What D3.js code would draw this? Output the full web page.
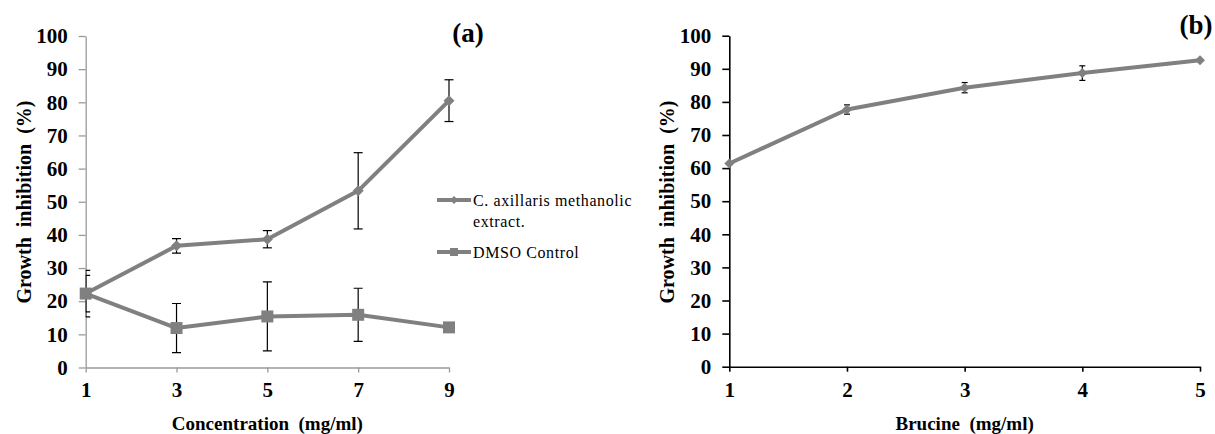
<!DOCTYPE html>
<html>
<head>
<meta charset="utf-8">
<script src="https://cdn.jsdelivr.net/npm/d3@7"></script>
<style>
  body { margin: 0; background: #fff; }
  svg text { font-family: "Liberation Serif", "DejaVu Serif", serif !important; }
</style>
</head>
<body>
<script>
// panel (a)
const concA = [1, 3, 5, 7, 9];
const extractMean = [22.3, 36.7, 38.7, 53.3, 80.5];
const extractErr = [7, 2.2, 2.6, 11.5, 6.3];
const dmsoMean = [22.3, 11.9, 15.4, 15.9, 12.1];
const dmsoErr = [5.5, 7.4, 10.4, 8, 0];
// panel (b)
const brucineConc = [1, 2, 3, 4, 5];
const brucineMean = [61.4, 77.7, 84.3, 88.7, 92.6];
const brucineErr = [0, 1.4, 1.55, 2.2, 0];

const yTicks = [0, 10, 20, 30, 40, 50, 60, 70, 80, 90, 100];
const legendLabels = [["C. axillaris methanolic", "extract."], ["DMSO Control"]];

const lineColor = "#808080";
const serif = "Liberation Serif";

const svg = d3.select("body").append("svg")
  .attr("width", 1215)
  .attr("height", 434)
  .attr("font-family", serif);

svg.append("rect").attr("width", 1215).attr("height", 434).attr("fill", "#fff");

function diamond(r) {
  return `M0,${-r}L${r},0L0,${r}L${-r},0Z`;
}

function square(s) {
  return `M${-s / 2},${-s / 2}h${s}v${s}h${-s}Z`;
}

function drawPanel(opt) {
  const x = d3.scalePoint().domain(opt.xs).range(opt.xRange);
  const y = d3.scaleLinear().domain([0, 100]).range(opt.yRange);

  const g = svg.append("g");

  const yAxis = g.append("g")
    .attr("transform", `translate(${opt.xRange[0]},0)`)
    .call(d3.axisLeft(y).tickValues(yTicks).tickSize(7).tickPadding(11).tickSizeOuter(0));

  const xAxis = g.append("g")
    .attr("transform", `translate(0,${opt.yRange[0]})`)
    .call(d3.axisBottom(x).tickSize(5).tickPadding(10).tickSizeOuter(0));

  [yAxis, xAxis].forEach(a => {
    a.attr("font-family", serif).attr("font-size", 21).attr("font-weight", "bold");
    a.select(".domain").attr("stroke", opt.axisColor).attr("stroke-width", opt.axisWidth);
    a.selectAll(".tick line").attr("stroke", opt.axisColor).attr("stroke-width", opt.axisWidth);
    a.selectAll(".tick text").attr("fill", "#000");
  });

  const clipId = "clip-" + opt.id;
  g.append("clipPath").attr("id", clipId)
    .append("rect")
    .attr("x", opt.xRange[0])
    .attr("y", 0)
    .attr("width", 1215 - opt.xRange[0])
    .attr("height", opt.yRange[0]);

  const line = d3.line().x(d => x(d.x)).y(d => y(d.y));

  opt.series.forEach(s => {
    const pts = opt.xs.map((v, i) => ({ x: v, y: s.mean[i], e: s.err[i] }));

    g.append("path")
      .datum(pts)
      .attr("fill", "none")
      .attr("stroke", lineColor)
      .attr("stroke-width", 4)
      .attr("stroke-linejoin", "round")
      .attr("d", line);

    const eb = g.append("g")
      .attr("clip-path", `url(#${clipId})`)
      .attr("stroke", "#000")
      .attr("stroke-width", 1.2)
      .selectAll("g")
      .data(pts.filter(d => d.e > 0))
      .join("g");

    eb.append("line")
      .attr("x1", d => x(d.x)).attr("x2", d => x(d.x))
      .attr("y1", d => y(d.y + d.e)).attr("y2", d => y(d.y - d.e));
    eb.append("line")
      .attr("x1", d => x(d.x) - opt.cap).attr("x2", d => x(d.x) + opt.cap)
      .attr("y1", d => y(d.y + d.e)).attr("y2", d => y(d.y + d.e));
    eb.append("line")
      .attr("x1", d => x(d.x) - opt.cap).attr("x2", d => x(d.x) + opt.cap)
      .attr("y1", d => y(d.y - d.e)).attr("y2", d => y(d.y - d.e));

    g.append("g")
      .selectAll("path")
      .data(pts)
      .join("path")
      .attr("transform", d => `translate(${x(d.x)},${y(d.y)})`)
      .attr("fill", lineColor)
      .attr("d", s.marker);
  });

  // axis titles
  g.append("text")
    .attr("x", (opt.xRange[0] + opt.xRange[1]) / 2)
    .attr("y", opt.xTitleY)
    .attr("text-anchor", "middle")
    .attr("font-weight", "bold")
    .attr("font-size", 19)
    .style("white-space", "pre")
    .text(opt.xTitle);

  g.append("text")
    .attr("transform", `translate(${opt.xRange[0] - 55},202) rotate(-90)`)
    .attr("text-anchor", "middle")
    .attr("font-weight", "bold")
    .attr("font-size", 20)
    .style("white-space", "pre")
    .text("Growth  inhibition  (%)");

  g.append("text")
    .attr("x", opt.tagX)
    .attr("y", opt.tagY)
    .attr("text-anchor", "middle")
    .attr("font-weight", "bold")
    .attr("font-size", 27)
    .text(opt.tag);

  return g;
}

drawPanel({
  id: "a",
  xs: concA,
  xRange: [85.7, 449],
  yRange: [367.5, 36],
  axisColor: "#9a9a9a",
  axisWidth: 1.3,
  cap: 4.5,
  xTitle: "Concentration  (mg/ml)",
  xTitleY: 430,
  tag: "(a)",
  tagX: 468, tagY: 42,
  series: [
    { mean: extractMean, err: extractErr, marker: diamond(5.5) },
    { mean: dmsoMean, err: dmsoErr, marker: square(12) }
  ]
});

drawPanel({
  id: "b",
  xs: brucineConc,
  xRange: [729.3, 1200],
  yRange: [366.7, 35.7],
  axisColor: "#000",
  axisWidth: 1.6,
  cap: 3,
  xTitle: "Brucine  (mg/ml)",
  xTitleY: 430,
  tag: "(b)",
  tagX: 1196, tagY: 34,
  series: [
    { mean: brucineMean, err: brucineErr, marker: diamond(5) }
  ]
});

// legend for panel (a)
const legend = svg.append("g").attr("transform", "translate(437,0)");
const legendRows = [
  { y: 200, marker: diamond(4), lines: legendLabels[0] },
  { y: 252, marker: square(8), lines: legendLabels[1] }
];

legendRows.forEach(r => {
  legend.append("line")
    .attr("x1", 0).attr("x2", 34)
    .attr("y1", r.y).attr("y2", r.y)
    .attr("stroke", lineColor)
    .attr("stroke-width", 4);
  legend.append("path")
    .attr("transform", `translate(17,${r.y})`)
    .attr("fill", lineColor)
    .attr("d", r.marker);
  const t = legend.append("text")
    .attr("x", 36)
    .attr("y", r.y + 6)
    .attr("font-size", 16)
    .attr("letter-spacing", 0.6)
    .attr("fill", "#000");
  r.lines.forEach((ln, i) => {
    t.append("tspan")
      .attr("x", 36)
      .attr("dy", i === 0 ? 0 : 21)
      .text(ln);
  });
});
</script>
</body>
</html>
